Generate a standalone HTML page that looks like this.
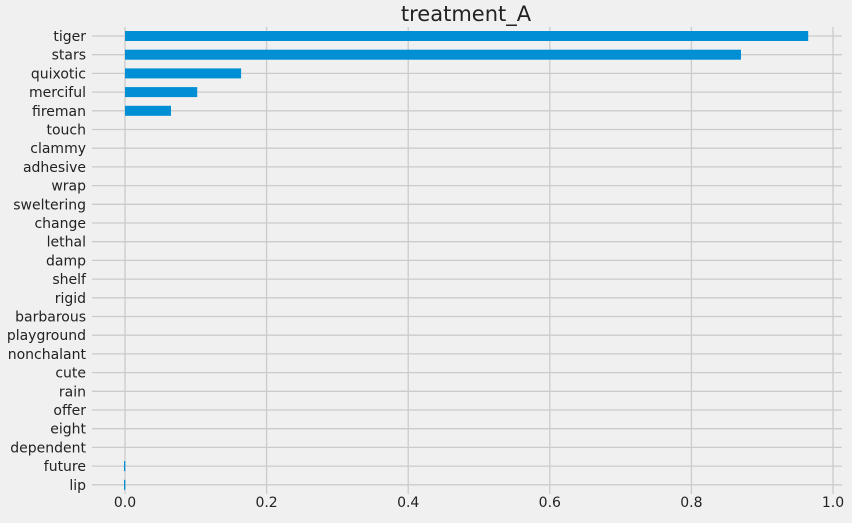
<!DOCTYPE html>
<html><head><style>body{margin:0;background:#f0f0f0}</style></head><body>
<svg width="852" height="518" xmlns="http://www.w3.org/2000/svg" font-family="DejaVu Sans, sans-serif">
<rect width="852" height="518" fill="#f0f0f0"/>
<g stroke="#cbcbcb" stroke-width="1.3">
<line x1="125" y1="27" x2="125" y2="494"/>
<line x1="266.6" y1="27" x2="266.6" y2="494"/>
<line x1="408.2" y1="27" x2="408.2" y2="494"/>
<line x1="549.8" y1="27" x2="549.8" y2="494"/>
<line x1="691.4" y1="27" x2="691.4" y2="494"/>
<line x1="833" y1="27" x2="833" y2="494"/>
<line x1="92" y1="36" x2="842" y2="36"/>
<line x1="92" y1="54.7" x2="842" y2="54.7"/>
<line x1="92" y1="73.4" x2="842" y2="73.4"/>
<line x1="92" y1="92.1" x2="842" y2="92.1"/>
<line x1="92" y1="110.8" x2="842" y2="110.8"/>
<line x1="92" y1="129.5" x2="842" y2="129.5"/>
<line x1="92" y1="148.2" x2="842" y2="148.2"/>
<line x1="92" y1="166.9" x2="842" y2="166.9"/>
<line x1="92" y1="185.6" x2="842" y2="185.6"/>
<line x1="92" y1="204.3" x2="842" y2="204.3"/>
<line x1="92" y1="223" x2="842" y2="223"/>
<line x1="92" y1="241.7" x2="842" y2="241.7"/>
<line x1="92" y1="260.4" x2="842" y2="260.4"/>
<line x1="92" y1="279.1" x2="842" y2="279.1"/>
<line x1="92" y1="297.8" x2="842" y2="297.8"/>
<line x1="92" y1="316.5" x2="842" y2="316.5"/>
<line x1="92" y1="335.2" x2="842" y2="335.2"/>
<line x1="92" y1="353.9" x2="842" y2="353.9"/>
<line x1="92" y1="372.6" x2="842" y2="372.6"/>
<line x1="92" y1="391.3" x2="842" y2="391.3"/>
<line x1="92" y1="410" x2="842" y2="410"/>
<line x1="92" y1="428.7" x2="842" y2="428.7"/>
<line x1="92" y1="447.4" x2="842" y2="447.4"/>
<line x1="92" y1="466.1" x2="842" y2="466.1"/>
<line x1="92" y1="484.8" x2="842" y2="484.8"/>
</g>
<g fill="#008fd5">
<rect x="125" y="31" width="683.2" height="10"/>
<rect x="125" y="49.7" width="616" height="10"/>
<rect x="125" y="68.4" width="116.1" height="10"/>
<rect x="125" y="87.1" width="72.2" height="10"/>
<rect x="125" y="105.8" width="46" height="10"/>
<rect x="124" y="461.1" width="1.3" height="10"/>
<rect x="124" y="479.8" width="1.3" height="10"/>
</g>
<g font-size="14" fill="#222" text-anchor="end">
<text x="86" y="41">tiger</text>
<text x="86" y="59.7">stars</text>
<text x="86" y="78.4">quixotic</text>
<text x="86" y="97.1">merciful</text>
<text x="86" y="115.8">fireman</text>
<text x="86" y="134.5">touch</text>
<text x="86" y="153.2">clammy</text>
<text x="86" y="171.9">adhesive</text>
<text x="86" y="190.6">wrap</text>
<text x="86" y="209.3">sweltering</text>
<text x="86" y="228">change</text>
<text x="86" y="246.7">lethal</text>
<text x="86" y="265.4">damp</text>
<text x="86" y="284.1">shelf</text>
<text x="86" y="302.8">rigid</text>
<text x="86" y="321.5">barbarous</text>
<text x="86" y="340.2">playground</text>
<text x="86" y="358.9">nonchalant</text>
<text x="86" y="377.6">cute</text>
<text x="86" y="396.3">rain</text>
<text x="86" y="415">offer</text>
<text x="86" y="433.7">eight</text>
<text x="86" y="452.4">dependent</text>
<text x="86" y="471.1">future</text>
<text x="86" y="489.8">lip</text>
</g>
<g font-size="14" fill="#222" text-anchor="middle">
<text x="125" y="507">0.0</text><text x="266.6" y="507">0.2</text><text x="408.2" y="507">0.4</text><text x="549.8" y="507">0.6</text><text x="691.4" y="507">0.8</text><text x="833" y="507">1.0</text>
</g>
<text x="466" y="21" font-size="21" text-anchor="middle" fill="#222">treatment_A</text>
</svg>
</body></html>
